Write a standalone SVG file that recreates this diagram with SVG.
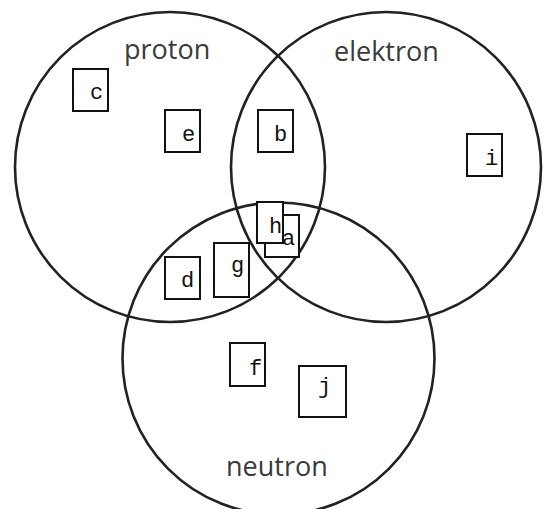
<svg xmlns="http://www.w3.org/2000/svg" width="544" height="509" viewBox="0 0 544 509">
<style>
.set{fill:none;stroke:#222;stroke-width:2.6}
.lbl{font-family:"Open Sans","Liberation Sans",sans-serif;font-size:27px;fill:#3a3a3a}
.box{fill:#fff;stroke:#111;stroke-width:2}
.t{font-family:"Liberation Mono","Courier New",monospace;font-size:22px;fill:#111}
</style>
<rect width="544" height="509" fill="#fff"/>
<g id="sets">
<g id="set-proton"><circle class="set" cx="170" cy="167" r="155"/><text class="lbl" x="124" y="59">proton</text></g>
<g id="set-elektron"><circle class="set" cx="386" cy="167" r="155"/><text class="lbl" x="334" y="61">elektron</text></g>
<g id="set-neutron"><circle class="set" cx="278.5" cy="358.5" r="156"/><text class="lbl" x="226" y="476">neutron</text></g>
</g>
<g id="node-c"><rect class="box" x="73" y="69" width="35" height="42"/><text class="t" x="90" y="99">c</text></g>
<g id="node-e"><rect class="box" x="165" y="110" width="35" height="42"/><text class="t" x="182" y="141">e</text></g>
<g id="node-b"><rect class="box" x="258" y="110" width="35" height="42"/><text class="t" x="274" y="141">b</text></g>
<g id="node-i"><rect class="box" x="467" y="134" width="35" height="42"/><text class="t" x="485" y="165">i</text></g>
<g id="node-a"><rect class="box" x="265" y="215" width="34" height="42"/><text class="t" x="282" y="245">a</text></g>
<g id="node-h"><rect class="box" x="257" y="202" width="26" height="41"/><text class="t" x="269" y="233">h</text></g>
<g id="node-g"><rect class="box" x="214" y="243" width="35" height="54"/><text class="t" x="231" y="272">g</text></g>
<g id="node-d"><rect class="box" x="165" y="257" width="35" height="42"/><text class="t" x="181" y="287">d</text></g>
<g id="node-f"><rect class="box" x="230" y="343" width="35" height="43"/><text class="t" x="249" y="375">f</text></g>
<g id="node-j"><rect class="box" x="299" y="366" width="47" height="51"/><text class="t" x="318" y="393">j</text></g>
<g id="connectors"></g>
</svg>
